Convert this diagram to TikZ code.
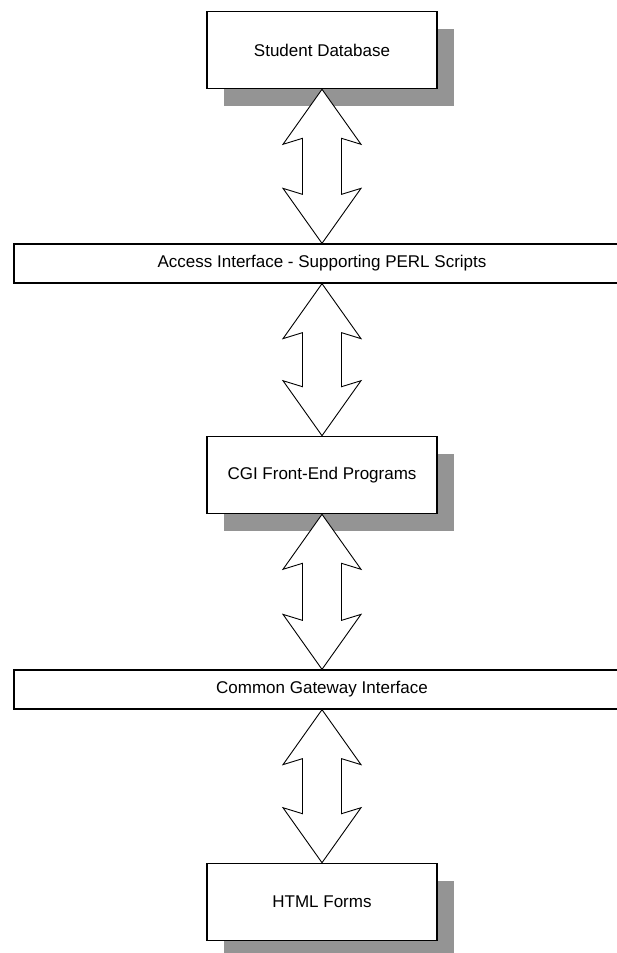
\documentclass[tikz,border=0pt]{standalone}
\usepackage{fontspec}
\setmainfont{Liberation Sans}
\usetikzlibrary{calc,shadows}

\tikzset{
	layerbox/.style={draw, line width=1.6pt, fill=white, minimum width=230pt, minimum height=77pt,
		drop shadow={shadow xshift=17pt, shadow yshift=-17pt, fill=black!42, opacity=1}},
	layerbar/.style={draw, line width=1.3pt, fill=white, minimum width=616pt, minimum height=39pt},
	dblarrow/.style={draw, line width=0.9pt, fill=white, line join=miter}
}

\begin{document}
\begin{tikzpicture}[x=1pt, y=-1pt, font=\fontsize{17}{20}\selectfont]
			\useasboundingbox (0, 0) rectangle (617, 953);
			
			% layers
			\node[layerbox] (db) at (322, 50) {Student Database};
			\node[layerbar] (acc) at (322, 263.5) {Access Interface - Supporting PERL Scripts};
			\node[layerbox] (cgi) at (322, 475) {CGI Front-End Programs};
			\node[layerbar] (gw) at (322, 689.5) {Common Gateway Interface};
			\node[layerbox] (html) at (322, 902) {HTML Forms};
			
			% double arrows between layers
			\foreach \a/\b in {db/acc, acc/cgi, cgi/gw, gw/html}{
				\draw[dblarrow] (\a.south) -- ++(39, 55) -- ++(-19.5, -6)
					-- ($(\b.north)+(19.5, -49)$) -- ++(19.5, -6) -- (\b.north)
					-- ++(-39, -55) -- ++(19.5, 6)
					-- ($(\a.south)+(-19.5, 49)$) -- ++(-19.5, 6) -- cycle;
			}
		\end{tikzpicture}
\end{document}
